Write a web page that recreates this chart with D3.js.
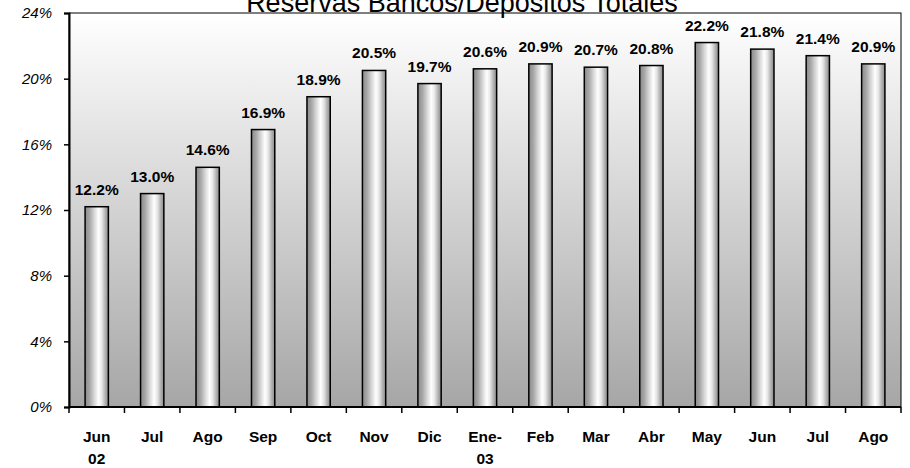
<!DOCTYPE html>
<html>
<head>
<meta charset="utf-8">
<script src="https://cdn.jsdelivr.net/npm/d3@7"></script>
<style>
  body { margin: 0; background: #fff; }
  svg { display: block; font-family: "Liberation Sans", Arial, sans-serif; }
</style>
</head>
<body>
<svg id="chart" width="910" height="468"></svg>
<script>
var months = ["Jun\n02", "Jul", "Ago", "Sep", "Oct", "Nov", "Dic", "Ene-\n03", "Feb", "Mar", "Abr", "May", "Jun", "Jul", "Ago"];
var reserves = [12.2, 13.0, 14.6, 16.9, 18.9, 20.5, 19.7, 20.6, 20.9, 20.7, 20.8, 22.2, 21.8, 21.4, 20.9];
var yTicks = [0, 4, 8, 12, 16, 20, 24];
var title = "Reservas Bancos/Depósitos Totales";

var svg = d3.select("#chart");
var margin = {top: 13, right: 9, bottom: 61, left: 69};
var width = 910 - margin.left - margin.right;
var height = 468 - margin.top - margin.bottom;

var defs = svg.append("defs");

//plot background: white at top fading to grey
var bg = defs.append("linearGradient")
  .attr("id", "bgGrad")
  .attr("x1", 0).attr("y1", 0).attr("x2", 0).attr("y2", 1);
bg.append("stop").attr("offset", "0%").attr("stop-color", "#ffffff");
bg.append("stop").attr("offset", "100%").attr("stop-color", "#a6a6a6");

//cylinder shading for the bars
var barGrad = defs.append("linearGradient")
  .attr("id", "barGrad")
  .attr("x1", 0).attr("y1", 0).attr("x2", 1).attr("y2", 0);
[[0, "#8a8a8a"], [0.2, "#a8a8a8"], [0.4, "#d8d8d8"], [0.58, "#ffffff"], [0.72, "#e6e6e6"], [0.86, "#b4b4b4"], [1, "#8a8a8a"]]
  .forEach(function(s) {
    barGrad.append("stop").attr("offset", s[0]).attr("stop-color", s[1]);
  });

var g = svg.append("g").attr("transform", "translate(" + margin.left + "," + margin.top + ")");

var x = d3.scaleBand()
  .domain(d3.range(months.length))
  .range([0, width])
  .paddingInner(0.58)
  .paddingOuter(0.29);

var y = d3.scaleLinear()
  .domain([0, 24])
  .range([height, 0]);

g.append("rect")
  .attr("width", width)
  .attr("height", height)
  .attr("fill", "url(#bgGrad)")
  .attr("stroke", "#000")
  .attr("stroke-width", 1);

//title, partly cut off at the top like the original
svg.append("text")
  .attr("x", 462)
  .attr("y", 12)
  .attr("text-anchor", "middle")
  .style("font-size", "27px")
  .text(title);

g.selectAll(".bar")
  .data(reserves)
  .enter().append("rect")
  .attr("class", "bar")
  .attr("x", function(d, i) { return x(i); })
  .attr("y", function(d) { return y(d); })
  .attr("width", x.bandwidth())
  .attr("height", function(d) { return height - y(d); })
  .attr("fill", "url(#barGrad)")
  .attr("stroke", "#000")
  .attr("stroke-width", 1.5);

g.selectAll(".val")
  .data(reserves)
  .enter().append("text")
  .attr("class", "val")
  .attr("x", function(d, i) { return x(i) + x.bandwidth() / 2; })
  .attr("y", function(d) { return y(d) - 12; })
  .attr("text-anchor", "middle")
  .style("font-size", "15.5px")
  .style("font-weight", "bold")
  .text(function(d) { return d.toFixed(1) + "%"; });

//y axis
var yAxis = g.append("g")
  .call(d3.axisLeft(y).tickValues(yTicks).tickSize(5).tickPadding(12)
    .tickFormat(function(d) { return d + "%"; }));
yAxis.select(".domain").attr("stroke-width", 2);
yAxis.selectAll(".tick line").attr("stroke-width", 1.5);
yAxis.selectAll(".tick text")
  .style("font-size", "15px")
  .style("font-style", "italic")
  .style("font-family", "Liberation Sans, Arial, sans-serif")
  .attr("fill", "#000");

//x axis: ticks on category boundaries
var xEdge = d3.scaleLinear().domain([0, months.length]).range([0, width]);
var xAxis = g.append("g")
  .attr("transform", "translate(0," + height + ")");
xAxis.append("line")
  .attr("x1", 0).attr("x2", width)
  .attr("stroke", "#000").attr("stroke-width", 2);
xAxis.selectAll(".xtick")
  .data(d3.range(months.length + 1))
  .enter().append("line")
  .attr("class", "xtick")
  .attr("x1", function(d) { return xEdge(d); })
  .attr("x2", function(d) { return xEdge(d); })
  .attr("y1", 0).attr("y2", 6)
  .attr("stroke", "#000").attr("stroke-width", 1.5);

var labels = xAxis.selectAll(".xlab")
  .data(months)
  .enter().append("text")
  .attr("class", "xlab")
  .attr("text-anchor", "middle")
  .attr("transform", function(d, i) { return "translate(" + (x(i) + x.bandwidth() / 2) + ",35)"; })
  .style("font-size", "15.5px")
  .style("font-weight", "bold");
labels.each(function(d) {
  var t = d3.select(this);
  d.split("\n").forEach(function(line, k) {
    t.append("tspan").attr("x", 0).attr("dy", k ? 22 : 0).text(line);
  });
});
</script>
</body>
</html>
